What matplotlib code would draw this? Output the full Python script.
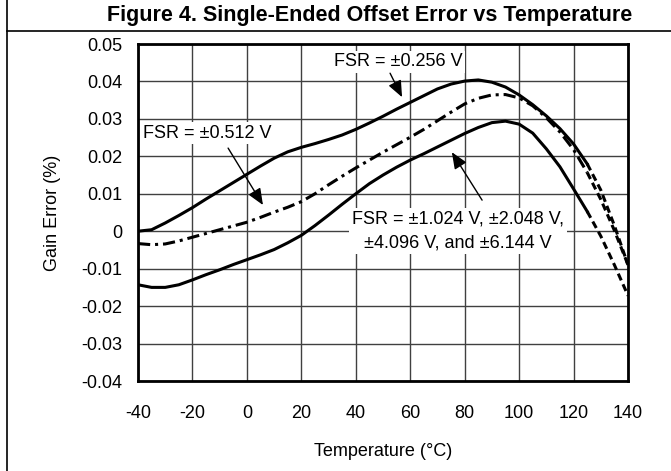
import matplotlib
matplotlib.use("Agg")
import matplotlib.pyplot as plt
from matplotlib.lines import Line2D

plt.rcParams['font.family'] = ['Liberation Sans', 'DejaVu Sans']

# data
temps = [-40, -35, -30, -25, -20, -15, -10, -5, 0, 5, 10, 15, 20, 25, 30, 35, 40,
         45, 50, 55, 60, 65, 70, 75, 80, 85, 90, 95, 100, 105, 110, 115, 120,
         125, 130, 135, 140]

fsr_0256 = [0.0000, 0.0004, 0.0022, 0.0042, 0.0063, 0.0086, 0.0108, 0.0130,
            0.0152, 0.0174, 0.0195, 0.0212, 0.0224, 0.0234, 0.0245, 0.0257,
            0.0272, 0.0289, 0.0307, 0.0326, 0.0344, 0.0362, 0.0380, 0.0393,
            0.0401, 0.0404, 0.0398, 0.0385, 0.0364, 0.0338, 0.0308, 0.0274,
            0.0233, 0.0180, 0.0110, 0.0015, -0.0090]

fsr_0512 = [-0.0033, -0.0036, -0.0034, -0.0026, -0.0016, -0.0006, 0.0004, 0.0014,
            0.0024, 0.0037, 0.0051, 0.0064, 0.0079, 0.0100, 0.0124, 0.0147,
            0.0169, 0.0190, 0.0211, 0.0231, 0.0251, 0.0272, 0.0295, 0.0318,
            0.0340, 0.0355, 0.0364, 0.0365, 0.0356, 0.0335, 0.0303, 0.0265,
            0.0218, 0.0157, 0.0085, 0.0002, -0.0090]

fsr_1024_up = [-0.0143, -0.0150, -0.0150, -0.0143, -0.0130, -0.0116, -0.0103, -0.0089,
               -0.0076, -0.0063, -0.0049, -0.0031, -0.0011, 0.0015, 0.0043, 0.0072,
               0.0100, 0.0127, 0.0150, 0.0171, 0.0190, 0.0207, 0.0225, 0.0243,
               0.0261, 0.0277, 0.0290, 0.0294, 0.0286, 0.0262, 0.0220, 0.0172,
               0.0113, 0.0053, -0.0013, -0.0090, -0.0172]

x_ticks = [-40, -20, 0, 20, 40, 60, 80, 100, 120, 140]
y_ticks = [0.05, 0.04, 0.03, 0.02, 0.01, 0.0, -0.01, -0.02, -0.03, -0.04]
y_tick_labels = ["0.05", "0.04", "0.03", "0.02", "0.01", "0",
                 "-0.01", "-0.02", "-0.03", "-0.04"]

label_0256 = "FSR = \u00b10.256 V"
label_0512 = "FSR = \u00b10.512 V"
label_1024 = "FSR = \u00b11.024 V, \u00b12.048 V,\n\u00b14.096 V, and \u00b16.144 V"

# curves turn dashed past this temperature
ext_start = temps.index(125)

fig = plt.figure(figsize=(6.71, 4.71), dpi=100)
ax = fig.add_axes([138 / 671, 1 - 381 / 471, 490 / 671, 337 / 471])

lw = 2.2
for vals, style in [(fsr_0256, '-'), (fsr_0512, (0, (4, 1.6, 1, 1.6))),
                    (fsr_1024_up, '-')]:
    ax.plot(temps[:ext_start + 1], vals[:ext_start + 1], color='black',
            lw=lw, linestyle=style, zorder=4)
    ax.plot(temps[ext_start:], vals[ext_start:], color='black',
            lw=lw, linestyle=(0, (2.4, 1.4)), zorder=4)

ax.set_xlim(-40, 140)
ax.set_ylim(-0.04, 0.05)
ax.set_xticks(x_ticks)
ax.set_xticklabels([str(t) for t in x_ticks])
ax.set_yticks(y_ticks)
ax.set_yticklabels(y_tick_labels)
ax.tick_params(length=0, labelsize=13)
ax.tick_params(axis='x', pad=17.5)
ax.tick_params(axis='y', pad=11)
ax.grid(True, color='0.25', lw=1.0, zorder=0.5)
ax.set_axisbelow(True)
for s in ax.spines.values():
    s.set_linewidth(2.0)

ax.set_xlabel("Temperature (\u00b0C)", fontsize=13, labelpad=15)
ax.set_ylabel("Gain Error (%)", fontsize=13, labelpad=15)

box = dict(facecolor='white', edgecolor='none', pad=2)
ax.text(55.5, 0.0452, label_0256, fontsize=13, ha='center', va='center',
        bbox=box, zorder=3)
ax.text(-14.5, 0.0262, label_0512, fontsize=13, ha='center', va='center',
        bbox=box, zorder=3)
ax.text(77.6, 0.0, label_1024, fontsize=13, ha='center', va='center',
        linespacing=1.5, bbox=box, zorder=3)

arrow = dict(arrowstyle='-|>,head_length=1.0,head_width=0.42', color='black',
             lw=1.0, shrinkA=0, shrinkB=0, mutation_scale=10)
ax.annotate('', xy=(57.0, 0.0358), xytext=(52.6, 0.0422), arrowprops=arrow, zorder=5)
ax.annotate('', xy=(5.9, 0.0070), xytext=(-6.9, 0.0222), arrowprops=arrow, zorder=5)
ax.annotate('', xy=(75.3, 0.0211), xytext=(86.4, 0.0083), arrowprops=arrow, zorder=5)

# figure frame and title band
fig.add_artist(Line2D([7 / 671, 7 / 671], [0, 1], color='black', lw=1.2))
fig.add_artist(Line2D([7 / 671, 1], [1 - 31 / 471, 1 - 31 / 471], color='black', lw=1.2))
fig.text(370 / 671, 1 - 16 / 471, "Figure 4. Single-Ended Offset Error vs Temperature",
         fontsize=15.5, fontweight='bold', ha='center', va='center')

fig.savefig("out.png", dpi=100)
